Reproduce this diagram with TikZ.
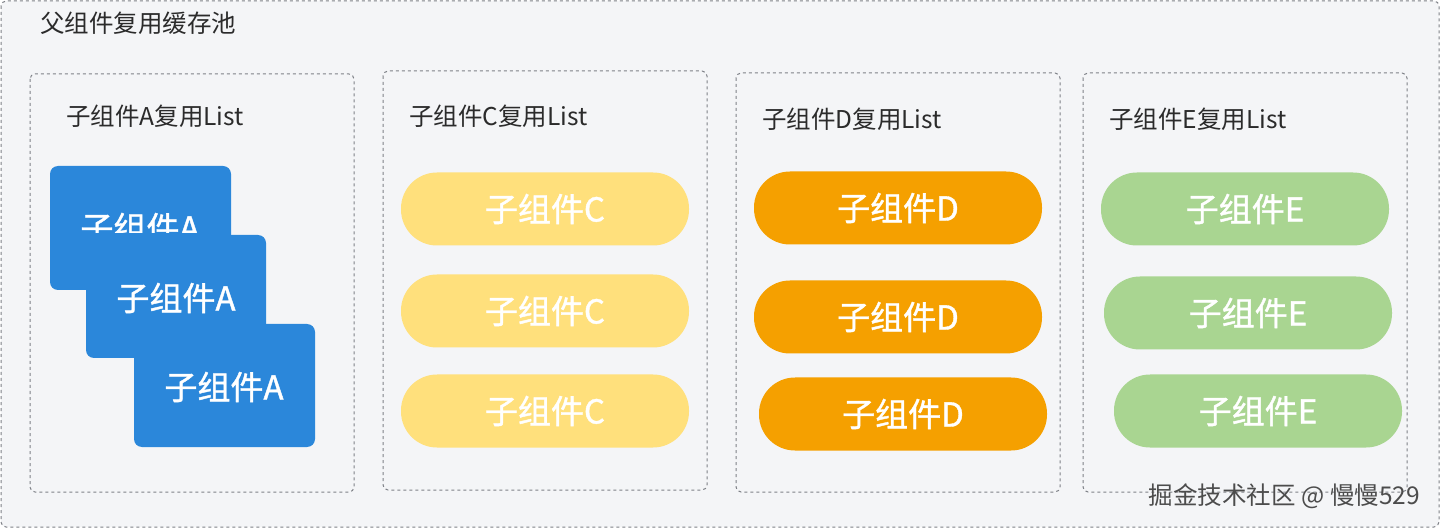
\documentclass[tikz,border=0pt]{standalone}
\usepackage{fontspec}
\setmainfont{Noto Sans CJK SC}
\newfontfamily\cardfont{Noto Sans CJK SC}[FakeBold=1.2]
\usetikzlibrary{positioning}
\definecolor{poolbg}{HTML}{F4F5F7}
\definecolor{dashgray}{HTML}{7E8187}
\definecolor{cardA}{HTML}{2B87DA}
\definecolor{pillC}{HTML}{FFE07C}
\definecolor{pillD}{HTML}{F5A000}
\definecolor{pillE}{HTML}{A9D591}
\definecolor{txtdark}{HTML}{2B2B2B}
\tikzset{
  listbox/.style={draw=dashgray,dashed,rounded corners=5pt,line width=1pt},
  cardbox/.style={fill=cardA,rounded corners=8pt},
  cardtext/.style={text=white,font=\cardfont\fontsize{33}{33}\selectfont,inner sep=0pt},
  pill/.style={rounded corners=36pt,minimum width=288pt,minimum height=73pt,
    text=white,font=\cardfont\fontsize{33}{33}\selectfont,inner sep=0pt},
  listlabel/.style={anchor=west,text=txtdark,font=\fontsize{24.5}{24.5}\selectfont,inner sep=0pt}
}
\begin{document}
\begin{tikzpicture}[x=1pt,y=-1pt]
      \useasboundingbox (0,0) rectangle (1441,529);
      \fill[white] (0,0) rectangle (1441,529);
      \draw[listbox,fill=poolbg] (1,1) rectangle (1439,527);
      \node[anchor=west,text=txtdark,font=\fontsize{24.5}{24.5}\selectfont,inner sep=0pt] (pool) at (40,23) {父组件复用缓存池};
      % the four lists
      \draw[listbox] (30,74) rectangle (354,492);
      \draw[listbox] (383,71) rectangle (707,490);
      \draw[listbox] (736,73) rectangle (1060,492);
      \draw[listbox] (1083,73) rectangle (1407,492);
      \node[listlabel] (labA) at (66,116) {子组件A复用List};
      \node[listlabel] (labC) at (409,116) {子组件C复用List};
      \node[listlabel] (labD) at (762,119) {子组件D复用List};
      \node[listlabel] (labE) at (1109,119) {子组件E复用List};
      % A: stacked cards
      \fill[cardbox] (50,166) rectangle (231,290);
      \begin{scope}
        \clip (50,166) rectangle (231,233);
        \node[cardtext] (a1) at (140,228) {子组件A};
      \end{scope}
      \fill[cardbox] (86,235) rectangle (266,358);
      \node[cardtext] (a2) at (176,298) {子组件A};
      \fill[cardbox] (134,324) rectangle (315,447);
      \node[cardtext] (a3) at (224,387) {子组件A};
      % C, D, E: pills
      \node[pill,fill=pillC] (c1) at (545,209) {子组件C};
      \node[pill,fill=pillC] (c2) at (545,311) {子组件C};
      \node[pill,fill=pillC] (c3) at (545,411) {子组件C};
      \node[pill,fill=pillD] (d1) at (898,208) {子组件D};
      \node[pill,fill=pillD] (d2) at (898,317) {子组件D};
      \node[pill,fill=pillD] (d3) at (903,414) {子组件D};
      \node[pill,fill=pillE] (e1) at (1245,209) {子组件E};
      \node[pill,fill=pillE] (e2) at (1248,313) {子组件E};
      \node[pill,fill=pillE] (e3) at (1258,411) {子组件E};
      \node[anchor=east,text=black!70,font=\fontsize{24.5}{24.5}\selectfont,inner sep=0pt] (mark) at (1420,496) {掘金技术社区 @ 慢慢529};
    \end{tikzpicture}
\end{document}
